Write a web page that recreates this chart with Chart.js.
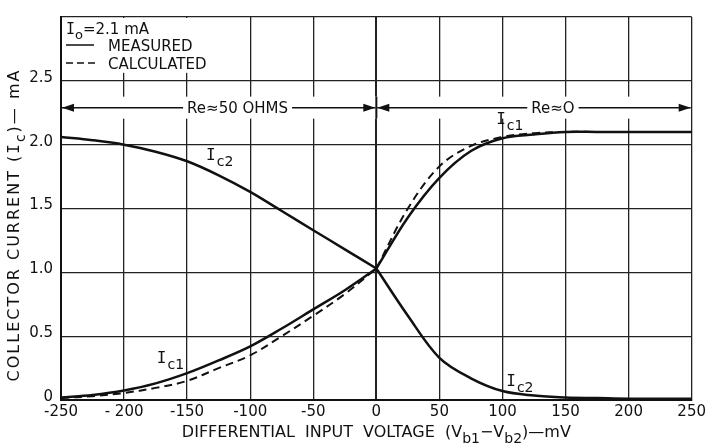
<!DOCTYPE html>
<html>
<head>
<meta charset="utf-8">
<title>Collector current vs differential input voltage</title>
<script src="https://cdn.jsdelivr.net/npm/chart.js@4.4.1/dist/chart.umd.min.js"></script>
<style>
    html, body { margin: 0; padding: 0; background: #fff; }
    #chart { display: block; }
</style>
</head>
<body>
<canvas id="chart" width="709" height="444"></canvas>
<script>
// Differential input voltage (mV)
const voltage = [-250, -225, -200, -175, -150, -125, -100, -75, -50, -25, 0,
                 25, 50, 75, 100, 125, 150, 175, 200, 225, 250];

// Collector currents (mA), measured
const ic1Measured = [0.02, 0.04, 0.075, 0.13, 0.21, 0.31, 0.42, 0.56, 0.71, 0.86, 1.03,
                     1.43, 1.74, 1.95, 2.05, 2.08, 2.10, 2.10, 2.10, 2.10, 2.10];
const ic2Measured = [2.06, 2.035, 2.00, 1.945, 1.87, 1.76, 1.63, 1.48, 1.33, 1.18, 1.03,
                     0.66, 0.33, 0.17, 0.07, 0.035, 0.02, 0.015, 0.01, 0.01, 0.01];

// Collector current Ic1 (mA), calculated
const ic1Calculated = [0.015, 0.03, 0.055, 0.095, 0.15, 0.25, 0.35, 0.50, 0.66, 0.83, 1.03,
                       1.50, 1.83, 1.99, 2.06, 2.09, 2.10, 2.10, 2.10, 2.10, 2.10];

const xTickLabels = ['-250', '- 200', '-150', '-100', '-50', '0', '50', '100', '150', '200', '250'];
const yTickLabels = ['0', '0.5', '1.0', '1.5', '2.0', '2.5'];

// Curve name labels: [subscript, x (mV), y (mA)] at the left/baseline of the "I"
const curveLabels = [
    ['c2', -135, 1.88],
    ['c1', 95, 2.16],
    ['c1', -174, 0.29],
    ['c2', 103, 0.11]
];

// Emitter resistance regions drawn as dimension arrows
const regions = [
    { from: -250, to: 0, text: 'Re\u224850 OHMS', at: -110 },
    { from: 0, to: 250, text: 'Re\u2248O', at: 140 }
];
const regionLevel = 2.29;

const INK = '#111';
const FONT = '"DejaVu Sans", sans-serif';
const I_FONT = '"DejaVu Sans Mono", monospace';

// Each region is its own curve segment, so the bend at 0 mV stays sharp
function points(ys, side) {
    return voltage
        .map((v, i) => ({ x: v, y: ys[i] }))
        .filter(p => (side < 0 ? p.x <= 0 : p.x >= 0));
}

// Draws a run of text parts, some of them subscripted, starting at x
function drawParts(ctx, parts, x, y, size) {
    let cx = x;
    parts.forEach(p => {
        const fs = p.sub ? Math.round(size * 0.85) : size;
        ctx.font = fs + 'px ' + (p.mono ? I_FONT : FONT);
        ctx.fillText(p.t, cx, p.sub ? y + size * 0.35 : y);
        cx += ctx.measureText(p.t).width + (p.gap || 0);
    });
    return cx - x;
}

function partsWidth(ctx, parts, size) {
    let w = 0;
    parts.forEach(p => {
        const fs = p.sub ? Math.round(size * 0.85) : size;
        ctx.font = fs + 'px ' + (p.mono ? I_FONT : FONT);
        w += ctx.measureText(p.t).width + (p.gap || 0);
    });
    return w;
}

function arrowHead(ctx, x, y, dir) {
    ctx.beginPath();
    ctx.moveTo(x, y);
    ctx.lineTo(x - dir * 12, y - 4);
    ctx.lineTo(x - dir * 12, y + 4);
    ctx.closePath();
    ctx.fill();
}

const annotations = {
    id: 'annotations',
    beforeDatasetsDraw(chart) {
        const ctx = chart.ctx;
        const xs = chart.scales.x, ys = chart.scales.y;
        const area = chart.chartArea;
        ctx.save();

        // clear the legend corner, leaving short ticks above 2.5
        ctx.fillStyle = '#fff';
        ctx.fillRect(area.left + 1, area.top + 1,
            xs.getPixelForValue(-100) - area.left - 2, ys.getPixelForValue(2.5) - area.top - 9);

        // break in the grid behind the region arrows
        const ay = ys.getPixelForValue(regionLevel);
        ctx.fillRect(area.left + 1, ay - 11, area.right - area.left - 2, 22);
        ctx.strokeStyle = INK;
        ctx.lineWidth = 2;
        const x0 = xs.getPixelForValue(0);
        ctx.beginPath();
        ctx.moveTo(x0, ay - 11);
        ctx.lineTo(x0, ay + 11);
        ctx.stroke();

        ctx.fillStyle = INK;
        ctx.lineWidth = 1.5;
        ctx.textBaseline = 'middle';
        ctx.font = '15px ' + FONT;
        regions.forEach(r => {
            const a = xs.getPixelForValue(r.from) + 1, b = xs.getPixelForValue(r.to) - 1;
            const c = xs.getPixelForValue(r.at);
            const w = ctx.measureText(r.text).width;
            ctx.beginPath();
            ctx.moveTo(a, ay);
            ctx.lineTo(c - w / 2 - 4, ay);
            ctx.moveTo(c + w / 2 + 4, ay);
            ctx.lineTo(b, ay);
            ctx.stroke();
            arrowHead(ctx, a, ay, -1);
            arrowHead(ctx, b, ay, 1);
            ctx.textAlign = 'center';
            ctx.fillText(r.text, c, ay + 1);
        });

        // legend text in the corner
        ctx.textAlign = 'left';
        ctx.textBaseline = 'alphabetic';
        const lx = area.left + 5;
        drawParts(ctx, [{ t: 'I', mono: true }, { t: 'o', sub: true }, { t: '=2.1 mA' }], lx, area.top + 17, 15);
        ctx.font = '15px ' + FONT;
        ctx.fillText('MEASURED', lx + 42, area.top + 34);
        ctx.fillText('CALCULATED', lx + 42, area.top + 52);
        ctx.beginPath();
        ctx.moveTo(lx, area.top + 28);
        ctx.lineTo(lx + 28, area.top + 28);
        ctx.stroke();
        ctx.setLineDash([7, 4]);
        ctx.beginPath();
        ctx.moveTo(lx, area.top + 46);
        ctx.lineTo(lx + 29, area.top + 46);
        ctx.stroke();
        ctx.setLineDash([]);

        // curve names
        curveLabels.forEach(([sub, x, y]) => {
            drawParts(ctx, [{ t: 'I', mono: true, gap: 1 }, { t: sub, sub: true }],
                xs.getPixelForValue(x), ys.getPixelForValue(y), 16);
        });
        ctx.restore();
    },
    afterDraw(chart) {
        const ctx = chart.ctx;
        const area = chart.chartArea;
        ctx.save();
        ctx.fillStyle = INK;
        ctx.textBaseline = 'alphabetic';
        ctx.textAlign = 'left';

        // x axis title
        const xParts = [
            { t: 'DIFFERENTIAL  INPUT  VOLTAGE  (V' }, { t: 'b1', sub: true },
            { t: '\u2212V' }, { t: 'b2', sub: true }, { t: ')\u2014mV' }
        ];
        const xw = partsWidth(ctx, xParts, 16);
        drawParts(ctx, xParts, (area.left + area.right) / 2 - xw / 2, 437, 16);

        // y axis title
        ctx.letterSpacing = '2px';
        const yParts = [
            { t: 'COLLECTOR CURRENT (' }, { t: 'I', mono: true }, { t: 'c', sub: true }, { t: ')\u2014 mA' }
        ];
        const yw = partsWidth(ctx, yParts, 16);
        ctx.translate(19, 225);
        ctx.rotate(-Math.PI / 2);
        drawParts(ctx, yParts, -yw / 2, 0, 16);
        ctx.restore();
    }
};

const curve = {
    borderColor: INK,
    borderWidth: 2.5,
    pointRadius: 0,
    fill: false,
    tension: 0.35
};
const dashed = { borderDash: [8, 5], borderWidth: 2 };

const datasets = [];
[-1, 1].forEach(side => {
    datasets.push(Object.assign({ label: 'Ic1 measured', data: points(ic1Measured, side) }, curve));
    datasets.push(Object.assign({ label: 'Ic2 measured', data: points(ic2Measured, side) }, curve));
    datasets.push(Object.assign({ label: 'Ic1 calculated', data: points(ic1Calculated, side) }, curve, dashed));
});

new Chart(document.getElementById('chart'), {
    type: 'line',
    data: { datasets: datasets },
    options: {
        responsive: false,
        animation: false,
        devicePixelRatio: 1,
        layout: { padding: { top: 11, right: 16, left: 0, bottom: 0 } },
        plugins: {
            legend: { display: false },
            tooltip: { enabled: false }
        },
        scales: {
            x: {
                type: 'linear',
                min: -250,
                max: 250,
                afterFit: s => { s.height = 44; },
                afterBuildTicks: s => { s.ticks = xTickLabels.map((_, i) => ({ value: -250 + i * 50 })); },
                ticks: {
                    color: INK,
                    font: { family: FONT, size: 15 },
                    padding: 3,
                    maxRotation: 0,
                    autoSkip: false,
                    callback: (v, i) => xTickLabels[i]
                },
                grid: {
                    color: '#222',
                    lineWidth: c => (c.tick && c.tick.value === 0 ? 2 : 1.3),
                    drawTicks: false
                },
                border: { color: INK, width: 2 }
            },
            y: {
                min: 0,
                max: 3,
                afterFit: s => { s.width = 61; },
                afterBuildTicks: s => { s.ticks = [0, 0.5, 1, 1.5, 2, 2.5, 3].map(v => ({ value: v })); },
                ticks: {
                    color: INK,
                    font: { family: FONT, size: 15 },
                    padding: 8,
                    labelOffset: -3,
                    callback: (v, i) => yTickLabels[i] || ''
                },
                grid: {
                    color: '#222',
                    lineWidth: 1.3,
                    drawTicks: false
                },
                border: { color: INK, width: 2 }
            }
        }
    },
    plugins: [annotations]
});
</script>
</body>
</html>
